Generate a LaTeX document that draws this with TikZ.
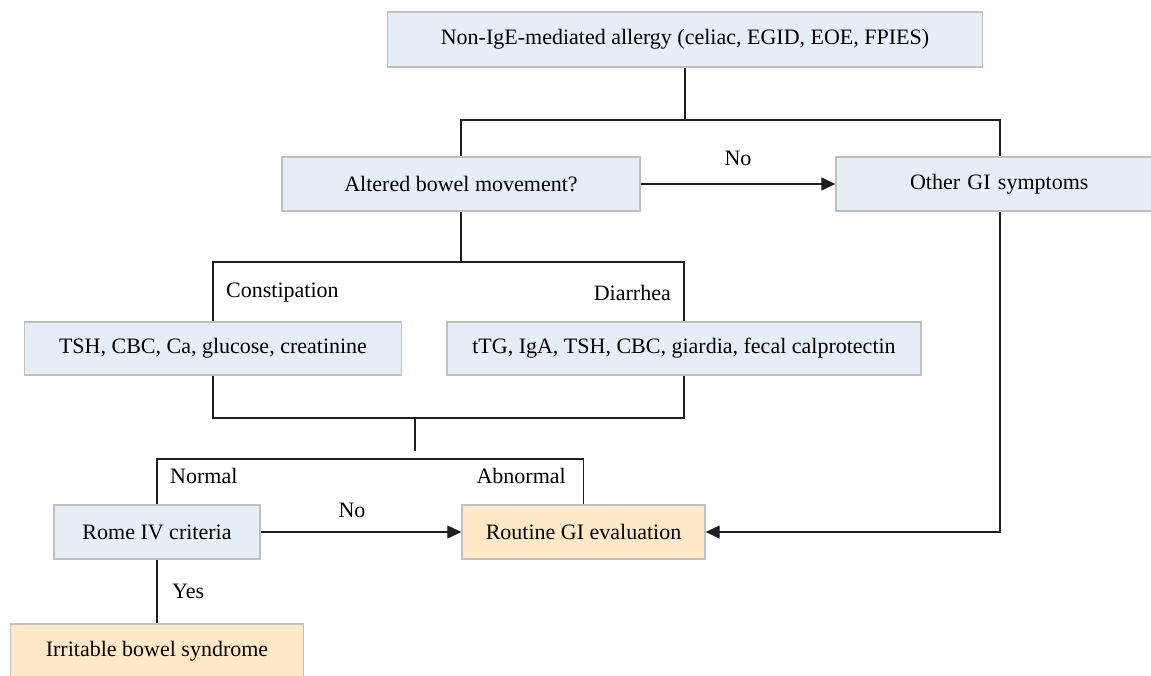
\documentclass[tikz,border=0pt]{standalone}
\usepackage{fontspec}
\setmainfont{Liberation Serif}
\usetikzlibrary{arrows.meta}
\definecolor{boxblue}{RGB}{230,238,248}
\definecolor{boxorange}{RGB}{255,233,198}
\definecolor{boxedge}{RGB}{192,192,192}
\definecolor{linecol}{RGB}{30,30,30}
\tikzset{
  bx/.style={draw=boxedge, line width=1.4pt, fill=boxblue, inner sep=0pt, font=\rmfamily\fontsize{22}{24}\selectfont},
  obx/.style={bx, fill=boxorange},
  conn/.style={draw=linecol, line width=1.3pt},
  arr/.style={conn, -{Triangle[length=14pt,width=13pt]}},
  lbl/.style={inner sep=0pt, font=\rmfamily\fontsize{22}{24}\selectfont},
}
\begin{document}
\begin{tikzpicture}[x=1pt,y=-1pt]
\useasboundingbox (0,0) rectangle (1151,675);
\clip (0,0) rectangle (1151,675);
\node[bx, minimum width=595pt, minimum height=55pt] (top) at (685,39.5) {Non-IgE-mediated allergy (celiac, EGID, EOE, FPIES)};
\node[bx, minimum width=358pt, minimum height=54pt] (alt) at (461,184) {Altered bowel movement?};
\node[bx, minimum width=328pt, minimum height=54pt, text width=312pt, align=left] (other) at (1000,184) {\hspace*{66pt}Other GI symptoms};
\node[bx, minimum width=377pt, minimum height=53pt] (tsh) at (213,348.5) {TSH, CBC, Ca, glucose, creatinine};
\node[bx, minimum width=474pt, minimum height=53pt] (dia) at (684,348.5) {tTG, IgA, TSH, CBC, giardia, fecal calprotectin};
\node[bx, minimum width=206pt, minimum height=54pt] (rome) at (157,532) {Rome IV criteria};
\node[obx, minimum width=243pt, minimum height=54pt] (routine) at (583.5,532) {Routine GI evaluation};
\node[obx, minimum width=293pt, minimum height=54pt] (ibs) at (157,651) {Irritable bowel syndrome};

\coordinate (j1) at (685,120);
\coordinate (j2) at (461,262);
\coordinate (j3) at (415,418);
\coordinate (j4) at (415,451);
\coordinate (j5) at (415,459);

\draw[conn] (top.south) -- (j1);
\draw[conn] (alt.north) |- (j1) -| (other.north);
\draw[arr] (alt.east) -- (other.west);
\node[lbl] (no1) at (738,158) {No};
\draw[conn] (alt.south) -- (j2);
\draw[conn] (tsh.north) |- (j2) -| (dia.north);
\node[lbl, anchor=west] (constip) at (226,293) {Constipation};
\node[lbl, anchor=east] (diarr) at (671,293) {Diarrhea};
\draw[conn] (tsh.south) |- (j3) -| (dia.south);
\draw[conn] (j3) -- (j4);
\draw[conn] (rome.north) |- (j5) -| (routine.north);
\node[lbl, anchor=west] (normal) at (170,476) {Normal};
\node[lbl, anchor=east] (abnormal) at (566,476) {Abnormal};
\draw[arr] (rome.east) -- (routine.west);
\node[lbl] (no2) at (352,510) {No};
\draw[arr] (other.south) |- (routine.east);
\draw[conn] (rome.south) -- (ibs.north);
\node[lbl, anchor=west] (yes) at (172,591) {Yes};
\end{tikzpicture}
\end{document}
